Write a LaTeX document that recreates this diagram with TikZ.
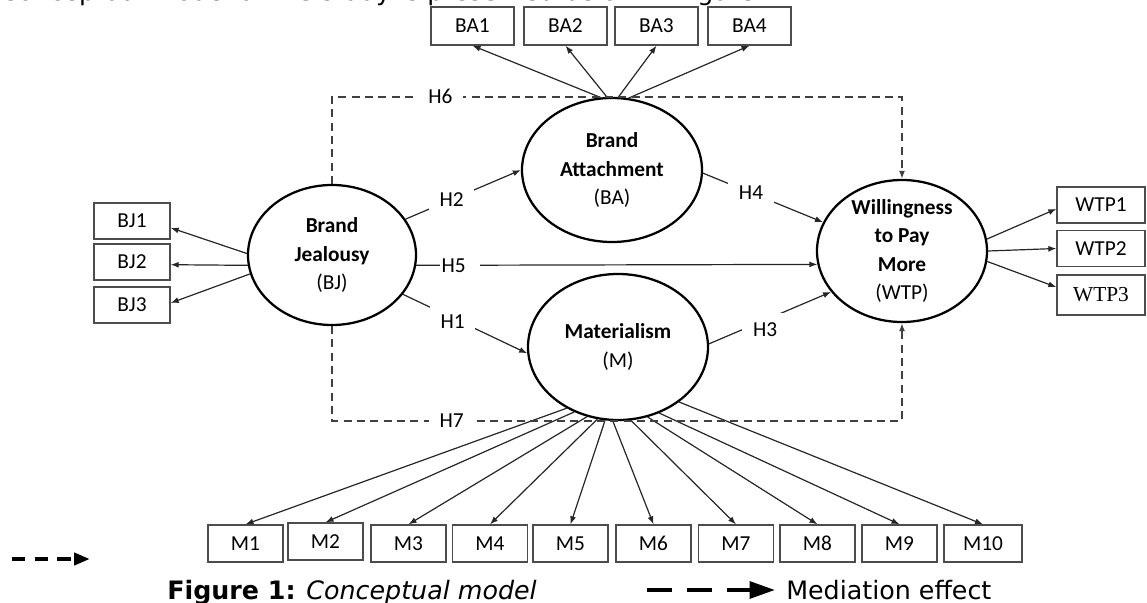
\documentclass[tikz,border=0pt]{standalone}
\usepackage{fontspec}
\setmainfont{Carlito}
\newfontfamily\verdana{DejaVu Sans}[BoldFont={DejaVu Sans Bold},ItalicFont={DejaVu Sans Oblique}]
\newfontfamily\timesf{Liberation Serif}
\usetikzlibrary{arrows.meta,shapes.geometric}
\begin{document}
\begin{tikzpicture}[x=0.75pt,y=-0.75pt,
  txt/.style={font=\fontsize{16}{21.3}\selectfont},
  ind/.style={txt, rectangle, draw=black!70, line width=1pt, minimum width=#1, minimum height=28.5pt, inner sep=0pt},
  ind/.default=56.25pt,
  lat/.style={txt, ellipse, draw=black, line width=1.7pt, align=center, inner sep=0pt},
  arr/.style={draw=black!85, line width=0.9pt, -{Latex[length=6pt,width=4.5pt]}},
  med/.style={draw=black!75, line width=1.4pt, dash pattern=on 6pt off 4pt, -{Latex[length=6pt,width=4.5pt]}},
  hl/.style={txt, fill=white, inner xsep=8pt, inner ysep=7pt},
  legsmall/.style={draw=black, line width=3pt, dash pattern=on 10pt off 7pt, -{Triangle[length=12pt,width=9pt]}},
  legbig/.style={draw=black, line width=3pt, dash pattern=on 18.75pt off 11.25pt, -{Triangle[length=19pt,width=12.5pt]}},
  captext/.style={font=\verdana\fontsize{19}{24}\selectfont, inner sep=0pt}
]
\useasboundingbox (0,0) rectangle (1147,603);

% partial line of text cut by the top edge (as in the reference)
\node[captext, anchor=base west] (toptext) at (0,0.8) {Conceptual model of the study is presented below in Figure};

% latent variables
\node[lat, minimum width=126pt, minimum height=105pt] (bj) at (332,255) {\textbf{Brand}\\\textbf{Jealousy}\\(BJ)};
\node[lat, minimum width=135pt, minimum height=108pt] (ba) at (612,170) {\textbf{Brand}\\\textbf{Attachment}\\(BA)};
\node[lat, minimum width=135pt, minimum height=109.5pt] (m) at (618,347) {\textbf{Materialism}\\(M)};
\node[lat, minimum width=127.5pt, minimum height=106.5pt, inner ysep=-3pt] (wtp) at (902,251) {\textbf{Willingness}\\\textbf{to Pay}\\\textbf{More}\\(WTP)};

% indicators
\node[ind=62.25pt] (ba1) at (472.5,26) {BA1};
\node[ind=62.25pt] (ba2) at (565.5,26) {BA2};
\node[ind=62.25pt] (ba3) at (656.5,26) {BA3};
\node[ind=62.25pt] (ba4) at (749.5,26) {BA4};

\node[ind=57pt, minimum height=27pt] (bj1) at (132,221) {BJ1};
\node[ind=57pt, minimum height=27pt] (bj2) at (132,262) {BJ2};
\node[ind=57pt, minimum height=27pt] (bj3) at (132,305) {BJ3};

\node[ind=66pt, minimum height=27pt] (wtp1) at (1101,205) {WTP1};
\node[ind=66pt, minimum height=27pt] (wtp2) at (1101,248.5) {WTP2};
\node[ind=66pt, minimum height=30pt, font=\timesf\fontsize{16}{20}\selectfont] (wtp3) at (1101,295) {WTP3};

\tikzset{mbox/.style={ind=#1, minimum height=27.75pt}, mbox/.default=56.25pt}
\node[mbox] (m1) at (245.5,543.5) {M1};
\node[mbox] (m2) at (325.5,541.5) {M2};
\node[mbox] (m3) at (408.5,543.5) {M3};
\node[mbox] (m4) at (490,543.5) {M4};
\node[mbox] (m5) at (570.5,543.5) {M5};
\node[mbox] (m6) at (653.5,543.5) {M6};
\node[mbox] (m7) at (736,543.5) {M7};
\node[mbox] (m8) at (817.5,543.5) {M8};
\node[mbox] (m9) at (899.5,543.5) {M9};
\node[mbox=58.5pt] (m10) at (983,543.5) {M10};

% measurement arrows
\draw[arr] (bj.179) -- (bj1.-10);
\draw[arr] (bj.-173) -- (bj2.-4);
\draw[arr] (bj.-167) -- (bj3.3);

\draw[arr] (ba.99) -- (ba1.south);
\draw[arr] (ba.94) -- (ba2.south);
\draw[arr] (ba.85) -- (ba3.south);
\draw[arr] (ba.77) -- (ba4.south);

\draw[arr] (wtp.8) -- (wtp1.-175);
\draw[arr] (wtp.0) -- (wtp2.west);
\draw[arr] (wtp.-7) -- (wtp3.170);

\draw[arr] (m.-130) -- (m1.north);
\draw[arr] (m.-124) -- (m2.north);
\draw[arr] (m.-114) -- (m3.north);
\draw[arr] (m.-106.5) -- (m4.north);
\draw[arr] (m.-100) -- (m5.north);
\draw[arr] (m.-94) -- (m6.north);
\draw[arr] (m.-80.5) -- (m7.north);
\draw[arr] (m.-67) -- (m8.north);
\draw[arr] (m.-58.5) -- (m9.north);
\draw[arr] (m.-42) -- (m10.north);

% structural paths
\draw[arr] (bj.26) -- node[hl, pos=.4] {H2} (ba.180);
\draw[arr] (bj.-7) -- node[hl, pos=.11, inner xsep=1pt, text width=28pt, align=left] {H5} (wtp.-171);
\draw[arr] (bj.-29) -- node[hl, pos=.4, yshift=-3pt] {H1} (m.-176);
\draw[arr] (ba.-2) -- node[hl, pos=.4] {H4} (wtp.160);
\draw[arr] (m.2) -- node[hl, pos=.46, yshift=-7pt] {H3} (wtp.-150);

% mediation paths
\draw[med] (bj.north) -- (bj.north |- ba.north) -- node[hl, pos=.19] {H6} (wtp.north |- ba.north) -- (wtp.north);
\draw[med] (bj.south) -- (bj.south |- m.south) -- node[hl, pos=.21] {H7} (wtp.south |- m.south) -- (wtp.south);

% legend
\coordinate (la1) at (12,559);
\coordinate (la2) at (90,559);
\draw[legsmall] (la1) -- (la2);
\coordinate (lb1) at (647,590);
\coordinate (lb2) at (775,590);
\draw[legbig] (lb1) -- (lb2);
\node[captext, anchor=base west] (medtext) at (786,599.5) {Mediation effect};
\node[captext, anchor=base west] (caption) at (167,599.5) {\textbf{Figure 1:} \textit{Conceptual model}};
\end{tikzpicture}
\end{document}
